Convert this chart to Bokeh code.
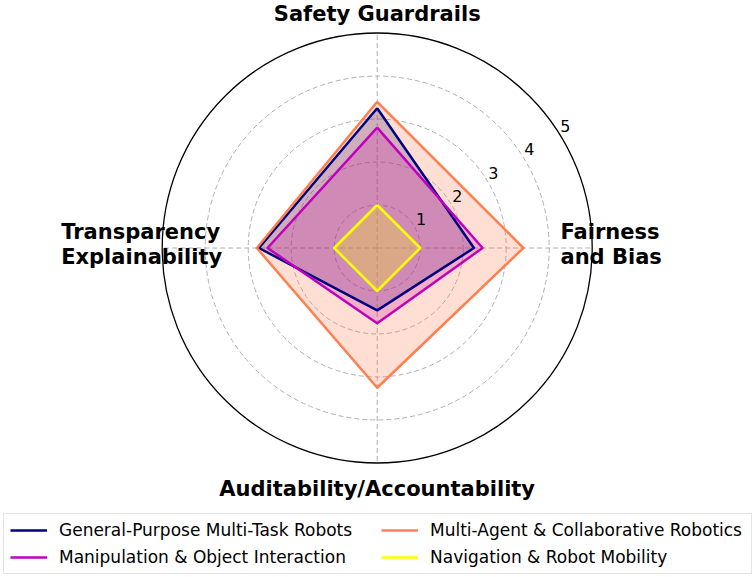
import numpy as np
from bokeh.plotting import figure
from bokeh.models import Range1d, Legend, LegendItem
from bokeh.embed import file_html
from bokeh.resources import INLINE
from bokeh.core.properties import value

# ---------------- data ----------------
categories = ["Safety Guardrails", "Fairness\nand Bias",
              "Auditability/Accountability", "Transparency\nExplainability"]
series_names = ["General-Purpose Multi-Task Robots",
                "Manipulation & Object Interaction",
                "Multi-Agent & Collaborative Robotics",
                "Navigation & Robot Mobility"]
general_purpose = [3.25, 2.25, 1.45, 2.75]
manipulation = [2.8, 2.45, 1.75, 2.55]
multi_agent = [3.4, 3.4, 3.25, 2.8]
navigation = [1.0, 1.0, 1.0, 1.0]
radial_ticks = [1, 2, 3, 4, 5]
colors = ["#000080", "#bf00bf", "#ff7f50", "#ffff00"]

series_values = [general_purpose, manipulation, multi_agent, navigation]

# ---------------- layout ----------------
W, H = 754, 577
S = 43.0                 # pixels per radial unit
CX, CY = 376.7, 247.5    # centre of polar area in figure pixels (from top-left)
FONT = "DejaVu Sans"


def fx(px):
    return (px - CX) / S


def fy(py):
    return (CY - py) / S


p = figure(width=W, height=H,
           x_range=Range1d(-CX / S, (W - CX) / S),
           y_range=Range1d(-(H - CY) / S, CY / S),
           output_backend="svg", toolbar_location=None,
           x_axis_location=None, y_axis_location=None,
           min_border=0, outline_line_color=None,
           background_fill_color="white", border_fill_color="white")
p.xgrid.visible = False
p.ygrid.visible = False

rmax = radial_ticks[-1]
theta = np.deg2rad(90 - 90 * np.arange(len(categories)))

# grid rings
for t in radial_ticks[:-1]:
    p.circle(x=[0], y=[0], radius=t, fill_color=None, line_color="#b0b0b0",
             line_width=1, line_dash="5 3")
# spokes
p.segment(x0=np.zeros(len(theta)), y0=np.zeros(len(theta)),
          x1=rmax * np.cos(theta), y1=rmax * np.sin(theta),
          line_color="#b0b0b0", line_width=1, line_dash="5 3")
# outer circle
p.circle(x=[0], y=[0], radius=rmax, fill_color=None, line_color="black",
         line_width=1.3)

# series: fills first, then outlines
polys = []
for vals in series_values:
    v = np.array(vals)
    polys.append((v * np.cos(theta), v * np.sin(theta)))
for (xs, ys), c in zip(polys, colors):
    p.patch(xs, ys, fill_color=c, fill_alpha=0.25, line_color=None)
line_renderers = []
for (xs, ys), c in zip(polys, colors):
    r = p.line(np.append(xs, xs[0]), np.append(ys, ys[0]), line_color=c,
               line_width=2.5, line_join="round")
    line_renderers.append(r)

# radial tick labels
ang = np.deg2rad(33)
rt = np.array(radial_ticks, dtype=float) + 0.22
p.text(x=rt * np.cos(ang), y=rt * np.sin(ang), text=[str(t) for t in radial_ticks],
       text_font=value(FONT), text_font_size="16px", text_color="black",
       text_align="center", text_baseline="middle")

# category labels
lab_kw = dict(text_font=value(FONT), text_font_style="bold",
              text_font_size="21px", text_color="black", text_line_height=1.05)
p.text(x=[0], y=[fy(13)], text=[categories[0]], text_align="center",
       text_baseline="alphabetic", **lab_kw)
p.text(x=[fx(560)], y=[fy(244)], text=[categories[1]], text_align="left",
       text_baseline="middle", **lab_kw)
p.text(x=[0], y=[fy(488)], text=[categories[2]], text_align="center",
       text_baseline="alphabetic", **lab_kw)
p.text(x=[fx(60.7)], y=[fy(244)], text=[categories[3]], text_align="left",
       text_baseline="middle", **lab_kw)

# legend
legend = Legend(items=[LegendItem(label=n, renderers=[r])
                       for n, r in zip(series_names, line_renderers)],
                ncols=2, location=(3, 3),
                label_text_font=FONT, label_text_font_size="17px",
                label_text_color="black",
                glyph_width=37, glyph_height=20, label_height=20,
                label_width=315,
                label_standoff=12, spacing=7, padding=6, margin=0,
                border_line_color="#cccccc", border_line_width=1,
                background_fill_color="white", background_fill_alpha=0.8)
p.add_layout(legend, "center")

open("out.html", "w").write(file_html(p, INLINE))
